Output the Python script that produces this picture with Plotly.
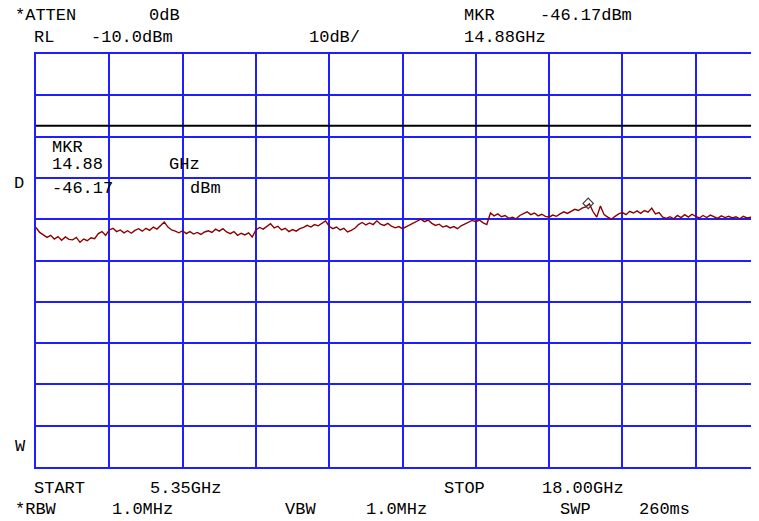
import numpy as np
import plotly.graph_objects as go

# sweep settings (GHz / dBm)
START_GHZ = 5.35
STOP_GHZ = 18.00
REF_LEVEL = -10.0
DB_PER_DIV = 10.0
DISPLAY_LINE = -27.4

MKR_FREQ = 14.88
MKR_LEVEL = -46.17

# trace, 201 sweep points
LEVEL_DIV0 = [-52.0, -53.2, -53.8, -54.4, -53.9, -54.8, -54.2, -55.1, -54.3, -54.9,
              -55.0, -54.4, -55.6, -54.8, -55.2, -54.5, -54.7, -53.5, -53.0, -53.9]
LEVEL_DIV1 = [-52.6, -52.2, -53.0, -52.6, -53.3, -52.8, -53.4, -52.7, -52.3, -52.9,
              -52.2, -52.7, -51.9, -52.4, -51.5, -50.7, -51.9, -52.6, -52.9, -53.3]
LEVEL_DIV2 = [-52.8, -53.5, -53.0, -53.6, -53.2, -53.7, -53.1, -52.8, -53.2, -52.4,
              -52.9, -52.3, -53.1, -53.5, -53.0, -53.9, -53.4, -53.8, -53.3, -54.3]
LEVEL_DIV3 = [-52.6, -52.0, -52.4, -51.8, -51.1, -52.1, -51.7, -52.6, -52.2, -53.0,
              -52.5, -52.9, -52.3, -52.0, -51.5, -51.9, -51.3, -51.6, -51.0, -50.4]
LEVEL_DIV4 = [-51.7, -52.3, -51.9, -52.6, -52.2, -53.1, -52.7, -52.2, -51.3, -50.8,
              -51.4, -50.9, -51.3, -50.4, -51.2, -51.5, -51.0, -51.7, -52.1, -51.8]
LEVEL_DIV5 = [-52.3, -51.8, -51.4, -50.9, -50.5, -50.0, -50.6, -50.2, -51.0, -51.5,
              -51.2, -51.9, -51.6, -52.1, -51.8, -52.3, -51.6, -51.1, -50.7, -50.3]
LEVEL_DIV6 = [-50.6, -50.2, -50.9, -51.3, -48.5, -49.2, -48.7, -49.4, -49.1, -49.8,
              -49.5, -49.9, -49.1, -48.6, -48.2, -48.9, -48.5, -49.2, -48.8, -49.3]
LEVEL_DIV7 = [-49.5, -49.0, -49.3, -48.7, -48.2, -48.6, -48.0, -47.6, -47.9, -47.3,
              -47.0, -46.3, -48.2, -49.5, -46.8, -48.9, -49.5, -50.0, -49.3, -48.7]
LEVEL_DIV8 = [-48.4, -48.9, -48.1, -48.5, -48.0, -48.6, -47.9, -48.3, -47.3, -48.7,
              -48.4, -49.5, -49.8, -49.4, -49.9, -49.1, -49.6, -48.9, -49.5, -48.8]
LEVEL_DIV9 = [-49.3, -49.7, -49.1, -49.6, -49.0, -49.5, -49.8, -49.2, -49.6, -49.3,
              -49.7, -49.4, -49.9, -49.3, -49.7, -49.5, -49.9, -49.4, -49.8, -49.5, -49.7]

levels = (LEVEL_DIV0 + LEVEL_DIV1 + LEVEL_DIV2 + LEVEL_DIV3 + LEVEL_DIV4 +
          LEVEL_DIV5 + LEVEL_DIV6 + LEVEL_DIV7 + LEVEL_DIV8 + LEVEL_DIV9)
freqs = np.linspace(START_GHZ, STOP_GHZ, len(levels))

# screen geometry in pixels (page body has an 8px margin)
OFF = 8
W, H = 759 - OFF, 521 - OFF
L, T, B = 36 - OFF, 54 - OFF, 467 - OFF
DIV_PX = 73.3
ghz_per_div = (STOP_GHZ - START_GHZ) / 10
x_max = START_GHZ + (W - L) / DIV_PX * ghz_per_div

FONT = "Liberation Mono"
GRID = "rgb(30,30,255)"

# (text, left px, centre px) in screen pixels
LABELS = [
    ("*ATTEN", 13, 16), ("0dB", 147, 16), ("MKR", 462, 16), ("-46.17dBm", 538, 16),
    ("RL", 32, 37), ("-10.0dBm", 89, 37), ("10dB/", 307, 37), ("14.88GHz", 462, 37),
    ("MKR", 50, 147), ("14.88", 50, 164), ("GHz", 167, 164),
    ("-46.17", 50, 188), ("dBm", 188, 188),
    ("D", 12, 183), ("W", 13, 446),
    ("START", 32, 488), ("5.35GHz", 148, 488), ("STOP", 442, 488), ("18.00GHz", 540, 488),
    ("*RBW", 13, 509), ("1.0MHz", 110, 509), ("VBW", 283, 509), ("1.0MHz", 364, 509),
    ("SWP", 558, 509), ("260ms", 637, 509),
]

fig = go.Figure()
fig.add_trace(go.Scatter(x=freqs, y=levels, mode="lines",
                         line=dict(color="rgb(140,0,0)", width=1.4)))
fig.add_trace(go.Scatter(x=[MKR_FREQ], y=[MKR_LEVEL], mode="markers",
                         marker=dict(symbol="diamond-open", size=8,
                                     color="rgb(60,60,60)", line=dict(width=1.2))))

fig.add_shape(type="line", xref="paper", x0=0, x1=1, yref="y",
              y0=DISPLAY_LINE, y1=DISPLAY_LINE, line=dict(color="black", width=2))

for text, px, py in LABELS:
    fig.add_annotation(text=text, xref="paper", yref="paper",
                       x=(px - OFF - L) / (W - L), y=(B - (py - OFF)) / (B - T),
                       xanchor="left", yanchor="middle", showarrow=False,
                       font=dict(family=FONT, size=17, color="black"))

fig.update_xaxes(range=[START_GHZ, x_max], tick0=START_GHZ, dtick=ghz_per_div,
                 showticklabels=False, ticks="", showgrid=True,
                 gridcolor=GRID, gridwidth=1.6, zeroline=False,
                 showline=True, linecolor=GRID, linewidth=1.6, mirror=True)
fig.update_yaxes(range=[REF_LEVEL - 10 * DB_PER_DIV, REF_LEVEL], dtick=DB_PER_DIV,
                 showticklabels=False, ticks="", showgrid=True,
                 gridcolor=GRID, gridwidth=1.6, zeroline=False,
                 showline=True, linecolor=GRID, linewidth=1.6, mirror=False)
fig.update_layout(width=W, height=H, showlegend=False,
                  margin=dict(l=L, r=0, t=T, b=H - B, pad=0),
                  plot_bgcolor="white", paper_bgcolor="white")

fig.write_html("out.html")
